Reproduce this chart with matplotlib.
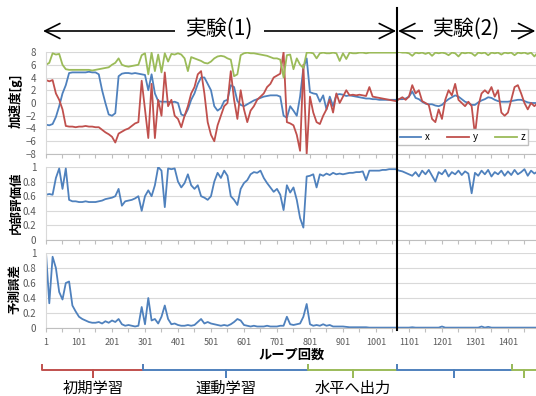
import numpy as np
import matplotlib
matplotlib.use('Agg')
import matplotlib.pyplot as plt
from matplotlib.lines import Line2D
from matplotlib.patches import FancyArrowPatch
from matplotlib.transforms import blended_transform_factory

plt.rcParams['font.family'] = ['Noto Sans CJK JP', 'DejaVu Sans']

# loop numbers, one sample every 10 loops
loops = np.arange(1, 1492, 10)

# acceleration [g]
accel_x = [
    -3.4, -3.5, -3.3, -2.2, -0.5, 1.5, 2.8, 4.7, 4.8, 4.8,
    4.8, 4.8, 4.8, 4.9, 4.8, 4.8, 4.5, 2.0, 0.0, -1.8,
    -2.0, -1.6, 4.2, 4.6, 4.7, 4.7, 4.6, 4.7, 4.6, 4.5,
    4.4, 2.0, 4.5, 1.5, 0.3, 0.2, 0.2, 0.2, 0.1, 0.2,
    0.0, -1.8, -2.0, -1.0, 0.5, 1.5, 3.0, 4.0, 4.0, 3.0,
    2.0, -0.5, -1.2, -0.8, 0.3, 0.5, 2.8, 2.5, 0.3, -0.3,
    -0.5, -0.2, 0.1, 0.4, 0.6, 0.8, 1.0, 1.1, 1.2, 1.2,
    1.2, 1.0, -2.0, -2.3, -0.5, -1.2, -2.0, 1.0, 5.5, 7.0,
    1.7, 1.5, 1.4, 0.2, 1.2, -1.0, 1.0, -0.5, 1.3, 1.4,
    1.3, 1.1, 1.2, 1.1, 1.0, 0.9, 0.8, 0.7, 0.7, 0.6,
    0.6, 0.5, 0.5, 0.5, 0.5, 0.5, 0.5, 0.6, 0.6, 0.7,
    1.0, 1.8, 0.8, 0.6, 0.2, -0.1, -0.2, -0.2, -0.4, -0.5,
    -0.3, 0.2, 0.6, 0.9, 1.2, 1.0, 0.6, 0.2, 0.0, -0.3,
    -0.3, 0.1, 0.4, 0.6, 0.9, 0.8, 0.5, 0.3, 0.2, 0.2,
    0.2, 0.3, 0.4, 0.5, 0.5, 0.3, 0.1, 0.0, 0.0, 0.0,
]
accel_y = [
    3.6, 3.4, 3.6, 1.5, 0.5, -1.0, -3.6, -3.7, -3.7, -3.8,
    -3.7, -3.7, -3.6, -3.7, -3.7, -3.8, -3.8, -4.2, -4.6, -4.9,
    -5.3, -6.2, -4.8, -4.5, -4.2, -4.0, -3.6, -3.2, -3.0, 3.5,
    -1.0, -5.5, 3.0, -5.5, 0.5, -2.0, 4.8, -0.5, 0.5, -2.0,
    -2.5, -3.8, -2.0, -0.5, 1.5, 2.5, 4.5, 5.0, 1.5, -3.0,
    -5.0, -6.0, -3.5, -2.0, -0.5, 0.0, 5.0, 0.5, -2.5, 2.0,
    -1.0, -3.0, -1.2, -0.5, 0.5, 1.0, 1.5, 2.5, 3.0, 4.0,
    4.3, 4.6, 8.0, -3.0, -3.2, -3.5, -5.0, -7.5, 6.0, -8.0,
    1.0, -1.5, -3.0, -3.3, -2.0, -1.0, 0.5, -1.5, 1.5, 0.0,
    1.0, 2.0, 1.2, 1.3, 1.2, 1.3, 1.2, 1.1, 2.5, 1.0,
    0.9, 0.8, 0.7, 0.6, 0.5, 0.4, 0.3, 0.6, 0.9, 0.5,
    1.0, 2.8, 1.5, 2.0, 0.3, 0.0, -0.3, -2.5, -3.0, -1.0,
    -2.5, 0.5, 2.0, 1.2, 3.0, 0.5, 0.0, -0.5, 0.2, -0.5,
    -5.0, -0.5, 1.5, 2.0, 1.5, 2.5, 1.0, 2.0, -1.5, -2.0,
    -1.5, 0.5, 2.5, 2.8, 1.5, 0.0, -1.0, 0.0, -0.5, 0.0,
]
accel_z = [
    6.0, 6.3, 7.8, 7.6, 7.7, 6.0, 5.3, 5.2, 5.2, 5.2,
    5.2, 5.2, 5.2, 5.2, 5.1, 5.2, 5.3, 5.4, 5.5, 5.6,
    6.0, 6.3, 7.0, 6.0, 5.8, 5.7, 5.8, 5.9, 6.0, 7.5,
    7.8, 4.5, 7.9, 5.0, 7.6, 4.8, 7.8, 6.5, 7.7, 7.6,
    7.8, 7.6, 7.0, 5.0, 7.2, 7.0, 6.8, 6.6, 6.3, 6.2,
    6.5, 7.0, 7.3, 7.4, 7.3, 7.0, 6.8, 4.2, 4.5, 7.5,
    7.8, 7.9, 7.8, 7.8, 7.7, 7.6, 7.5, 7.4, 7.2, 7.0,
    7.0, 6.8, 4.0, 7.5, 7.6, 5.3, 7.0, 6.0, 5.5, 7.9,
    7.9, 7.8, 7.0, 7.8, 7.9, 7.8, 7.8, 7.9, 7.8, 6.6,
    7.8, 6.9, 7.9, 7.8, 7.8, 7.9, 7.9, 7.8, 7.9, 7.9,
    7.9, 7.9, 7.9, 7.9, 7.9, 7.9, 7.9, 8.0, 7.9, 7.9,
    7.8, 7.4, 7.9, 7.8, 7.9, 7.7, 7.9, 7.4, 7.9, 7.8,
    7.9, 7.8, 7.5, 7.9, 7.8, 7.3, 7.9, 7.8, 7.9, 7.8,
    7.4, 7.9, 7.8, 7.9, 7.5, 7.9, 7.8, 7.9, 7.6, 7.9,
    7.8, 7.9, 7.5, 7.9, 7.8, 7.9, 7.7, 7.9, 7.3, 7.9,
]

# internal evaluation value
eval_vals = [
    0.62, 0.63, 0.62, 0.85, 0.98, 0.70, 0.98, 0.55, 0.53, 0.53,
    0.52, 0.52, 0.53, 0.52, 0.52, 0.52, 0.53, 0.54, 0.56, 0.57,
    0.58, 0.60, 0.70, 0.47, 0.53, 0.54, 0.55, 0.57, 0.60, 0.40,
    0.60, 0.68, 0.60, 0.75, 1.00, 0.95, 0.45, 0.98, 0.97, 0.98,
    0.80, 0.72, 0.78, 0.90, 0.75, 0.70, 0.75, 0.60, 0.58, 0.55,
    0.60, 0.80, 0.92, 0.85, 0.95, 0.88, 0.60, 0.55, 0.48, 0.70,
    0.78, 0.82, 0.90, 0.93, 0.92, 0.95, 0.85, 0.78, 0.72, 0.66,
    0.70, 0.62, 0.41, 0.75, 0.65, 0.72, 0.55, 0.30, 0.17, 0.87,
    0.88, 0.90, 0.72, 0.90, 0.88, 0.91, 0.89, 0.92, 0.90, 0.91,
    0.90, 0.91, 0.92, 0.92, 0.93, 0.93, 0.94, 0.82, 0.95, 0.95,
    0.95, 0.95, 0.96, 0.96, 0.97, 0.97, 0.97, 0.95, 0.94, 0.92,
    0.90, 0.88, 0.93, 0.87, 0.95, 0.90, 0.96, 0.88, 0.80, 0.93,
    0.90, 0.96, 0.87, 0.93, 0.90, 0.95, 0.89, 0.94, 0.91, 0.64,
    0.92, 0.88, 0.95, 0.90, 0.96, 0.87, 0.93, 0.90, 0.95, 0.88,
    0.94, 0.89, 0.96, 0.90, 0.93, 0.97, 0.88, 0.95, 0.91, 0.94,
]

# prediction error
pred_err = [
    1.00, 0.33, 0.95, 0.80, 0.48, 0.38, 0.60, 0.62, 0.30, 0.22,
    0.15, 0.12, 0.10, 0.08, 0.07, 0.07, 0.08, 0.06, 0.09, 0.07,
    0.10, 0.08, 0.12, 0.05, 0.03, 0.04, 0.03, 0.02, 0.03, 0.28,
    0.05, 0.40, 0.10, 0.12, 0.06, 0.15, 0.30, 0.12, 0.05, 0.06,
    0.04, 0.03, 0.03, 0.04, 0.03, 0.04, 0.08, 0.12, 0.06, 0.08,
    0.06, 0.05, 0.04, 0.03, 0.04, 0.03, 0.05, 0.08, 0.12, 0.10,
    0.04, 0.03, 0.02, 0.03, 0.02, 0.02, 0.02, 0.03, 0.02, 0.02,
    0.02, 0.03, 0.03, 0.15, 0.05, 0.04, 0.05, 0.06, 0.15, 0.32,
    0.05, 0.03, 0.04, 0.03, 0.05, 0.03, 0.04, 0.02, 0.02, 0.02,
    0.02, 0.015, 0.01, 0.01, 0.01, 0.01, 0.01, 0.01, 0.005, 0.005,
    0.005, 0.005, 0.005, 0.005, 0.005, 0.005, 0.005, 0.005, 0.005, 0.005,
    0.005, 0.01, 0.005, 0.005, 0.005, 0.005, 0.005, 0.005, 0.005, 0.005,
    0.02, 0.005, 0.005, 0.005, 0.005, 0.005, 0.005, 0.005, 0.005, 0.005,
    0.005, 0.005, 0.02, 0.005, 0.015, 0.005, 0.005, 0.005, 0.005, 0.005,
    0.005, 0.005, 0.005, 0.005, 0.005, 0.005, 0.005, 0.005, 0.005, 0.005,
]

# phases along the loop axis
phase_edges = [-10, 295, 795, 1065, 1413, 1488]
phase_labels = ['初期学習', '運動学習', '水平へ出力', '', '']
exp_switch = 1065
x_max = 1486

BLUE = '#4F81BD'
RED = '#C0504D'
GREEN = '#9BBB59'
phase_colors = [RED, BLUE, GREEN, BLUE, GREEN]

W, H = 536, 396
fig = plt.figure(figsize=(W / 100, H / 100), dpi=100)


def box(top, bottom, left=46, right=536):
    return [left / W, 1 - bottom / H, (right - left) / W, (bottom - top) / H]


def fy(py):
    return 1 - py / H


ax1 = fig.add_axes(box(52, 154))
ax2 = fig.add_axes(box(167, 240))
ax3 = fig.add_axes(box(253, 328))

xt = np.arange(1, x_max + 1, 50)
for ax in (ax1, ax2, ax3):
    ax.set_xlim(1, x_max)
    ax.grid(axis='y', color='#D9D9D9', lw=0.8)
    ax.set_axisbelow(True)
    for s in ('top', 'right'):
        ax.spines[s].set_visible(False)
    ax.spines['left'].set_color('#D9D9D9')
    ax.spines['bottom'].set_color('#BFBFBF')
    ax.set_xticks(xt)
    ax.set_xticklabels([])
    ax.tick_params(axis='x', length=3, color='#BFBFBF', labelsize=6.5,
                   labelcolor='#595959', pad=4)
    ax.tick_params(axis='y', length=0, labelsize=7, labelcolor='#595959', pad=7)

ax3.set_xticklabels([str(v) if (v - 1) % 100 == 0 else '' for v in xt])

ax1.plot(loops, accel_x, color=BLUE, lw=1.3, label='x')
ax1.plot(loops, accel_y, color=RED, lw=1.3, label='y')
ax1.plot(loops, accel_z, color=GREEN, lw=1.3, label='z')
ax1.set_ylim(-8, 8)
ax1.set_yticks(np.arange(-8, 9, 2))
ax1.legend(loc='lower right', bbox_to_anchor=(0.994, 0.04), ncol=3, fontsize=7,
           fancybox=False, edgecolor='#BFBFBF', framealpha=1, handlelength=2.2,
           columnspacing=1.8, borderpad=0.3, handletextpad=0.4)

ax2.plot(loops, eval_vals, color=BLUE, lw=1.3)
ax3.plot(loops, pred_err, color=BLUE, lw=1.3)
for ax in (ax2, ax3):
    ax.set_ylim(0, 1)
    ax.set_yticks([0, 0.2, 0.4, 0.6, 0.8, 1])
    ax.set_yticklabels(['0', '0.2', '0.4', '0.6', '0.8', '1'])

fig.text(16 / W, fy(101), '加速度[g]', rotation=90, ha='center', va='center',
         fontsize=9, fontweight='bold')
fig.text(16 / W, fy(203), '内部評価値', rotation=90, ha='center', va='center',
         fontsize=9, fontweight='bold')
fig.text(15 / W, fy(289), '予測誤差', rotation=90, ha='center', va='center',
         fontsize=9, fontweight='bold')
fig.text(292 / W, fy(355), 'ループ回数', ha='center', va='center',
         fontsize=9.5, fontweight='bold')

# x in loops, y in figure fraction
tr = blended_transform_factory(ax3.transData, fig.transFigure)

fig.add_artist(Line2D([exp_switch, exp_switch], [fy(8), fy(330)], transform=tr,
                      color='black', lw=1.5))

arrow_y = fy(31)
for a, b, txt in [(-8, exp_switch - 3, '実験(1)'), (exp_switch + 3, x_max - 2, '実験(2)')]:
    fig.add_artist(FancyArrowPatch((a, arrow_y), (b, arrow_y), transform=tr,
                                   arrowstyle='<->,head_length=0.6,head_width=0.3',
                                   mutation_scale=18, lw=1.2, color='black',
                                   shrinkA=0, shrinkB=0))
    fig.text((a + b) / 2, fy(29), txt, transform=tr, ha='center', va='center',
             fontsize=15, bbox=dict(boxstyle='square,pad=0.5', fc='white', ec='none'))

# phase brackets under the axis
y_line, y_end, y_tick = fy(370), fy(365), fy(377)
for i, (lab, col) in enumerate(zip(phase_labels, phase_colors)):
    a, b = phase_edges[i], phase_edges[i + 1]
    m = (a + b) / 2
    fig.add_artist(Line2D([a, a, m, m, m, b, b],
                          [y_end, y_line, y_line, y_tick, y_line, y_line, y_end],
                          transform=tr, color=col, lw=1.4))
    if lab:
        fig.text(m, fy(388), lab, transform=tr, ha='center', va='center', fontsize=11)

fig.savefig('out.png', dpi=100)
